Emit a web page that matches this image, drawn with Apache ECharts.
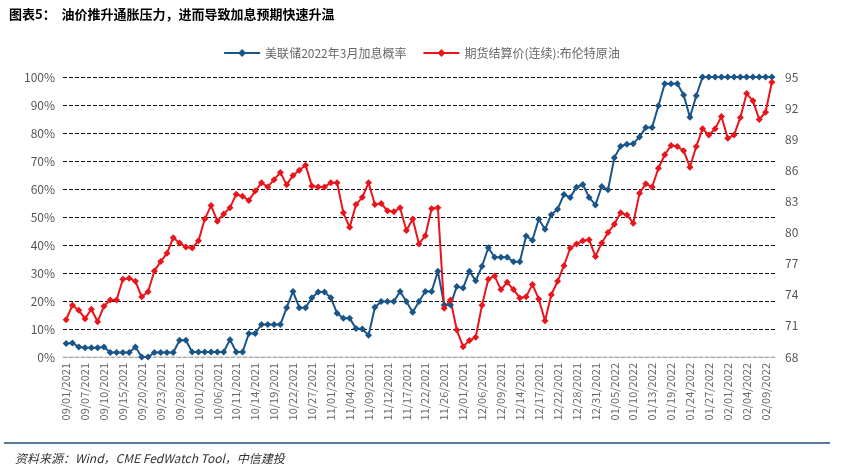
<!DOCTYPE html>
<html>
<head>
<meta charset="utf-8">
<script src="https://cdn.jsdelivr.net/npm/echarts@6/dist/echarts.min.js"></script>
<style>
body{margin:0;background:#fff;}
#chart{width:843px;height:468px;}
</style>
</head>
<body>
<div id="chart"></div>
<script>
var dates = [
 '09/01/2021','09/02/2021','09/03/2021','09/07/2021','09/08/2021','09/09/2021','09/10/2021','09/13/2021','09/14/2021','09/15/2021','09/16/2021','09/17/2021','09/20/2021','09/21/2021','09/22/2021','09/23/2021','09/24/2021','09/27/2021','09/28/2021','09/29/2021','09/30/2021',
 '10/01/2021','10/04/2021','10/05/2021','10/06/2021','10/07/2021','10/08/2021','10/11/2021','10/12/2021','10/13/2021','10/14/2021','10/15/2021','10/18/2021','10/19/2021','10/20/2021','10/21/2021','10/22/2021','10/25/2021','10/26/2021','10/27/2021','10/28/2021','10/29/2021',
 '11/01/2021','11/02/2021','11/03/2021','11/04/2021','11/05/2021','11/08/2021','11/09/2021','11/10/2021','11/11/2021','11/12/2021','11/15/2021','11/16/2021','11/17/2021','11/18/2021','11/19/2021','11/22/2021','11/23/2021','11/24/2021','11/26/2021','11/29/2021','11/30/2021',
 '12/01/2021','12/02/2021','12/03/2021','12/06/2021','12/07/2021','12/08/2021','12/09/2021','12/10/2021','12/13/2021','12/14/2021','12/15/2021','12/16/2021','12/17/2021','12/20/2021','12/21/2021','12/22/2021','12/23/2021','12/27/2021','12/28/2021','12/29/2021','12/30/2021','12/31/2021',
 '01/03/2022','01/04/2022','01/05/2022','01/06/2022','01/07/2022','01/10/2022','01/11/2022','01/12/2022','01/13/2022','01/14/2022','01/18/2022','01/19/2022','01/20/2022','01/21/2022','01/24/2022','01/25/2022','01/26/2022','01/27/2022','01/28/2022','01/31/2022',
 '02/01/2022','02/02/2022','02/03/2022','02/04/2022','02/07/2022','02/08/2022','02/09/2022','02/10/2022'
];

// 美联储2022年3月加息概率 (%)
var hikeProb = [
 4.8,5,3.6,3.3,3.3,3.3,3.6,1.6,1.6,1.6,1.6,3.6,
 0,0,1.6,1.6,1.6,1.6,6,6,
 1.8,1.8,1.8,1.8,1.8,1.8,6.2,1.8,1.8,8.4,8.4,
 11.6,11.6,11.6,11.6,17.6,23.4,17.6,17.6,21.2,23.2,23.2,21.2,
 15.6,13.8,13.8,10.2,10,7.8,
 17.8,19.8,19.8,19.8,23.4,19.8,16,19.8,23.4,23.4,30.6,
 18.6,18.6,25.2,24.6,30.6,27.2,32.4,39,35.6,35.6,35.6,34,34,
 43.2,41.7,49.2,45.6,50.8,52.8,58,57,60.6,61.6,57,54.3,60.9,59.7,
 71.2,75.3,76,76.2,78.6,82,82,89.7,97.6,97.6,97.6,93.6,85.6,93.3,
 100,100,100,100,100,100,100,100,100,100,100,100
];

// 期货结算价(连续):布伦特原油
var brent = [
 71.6,73.0,72.5,71.7,72.6,71.4,72.9,73.5,73.5,75.5,75.6,75.3,73.8,74.3,76.3,77.2,78.0,79.5,79.0,78.6,
 78.5,79.2,81.3,82.6,81.1,81.8,82.4,83.7,83.5,83.1,84.0,84.8,84.4,85.1,85.8,84.6,85.5,86.0,86.5,84.5,
 84.4,84.4,84.8,84.8,81.9,80.5,82.7,83.4,84.8,82.7,82.8,82.1,82.0,82.4,80.2,81.3,78.9,79.7,82.3,
 82.4,72.7,73.5,70.6,69.0,69.6,69.9,73.0,75.5,75.8,74.5,75.2,74.5,73.7,73.8,75.0,73.6,71.5,74.0,75.3,
 76.8,78.5,78.9,79.2,79.3,77.7,79.0,80.0,80.8,81.9,81.7,80.9,83.8,84.7,84.4,86.2,87.5,88.4,88.3,87.9,
 86.3,88.3,90.0,89.4,90.0,91.2,89.1,89.4,91.1,93.4,92.7,90.9,91.6,94.5
];

var pctTicks = [0, 100, 10];
var oilTicks = [68, 95, 3];

var chart = echarts.init(document.getElementById('chart'));
var font = '"Noto Sans CJK SC", sans-serif';

chart.setOption({
    animation: false,
    textStyle: {fontFamily: font},
    title: [{
        text: '图表5：  油价推升通胀压力，进而导致加息预期快速升温',
        left: 4, top: 3,
        textStyle: {fontSize: 13, fontWeight: 'bold', color: '#000', fontFamily: font}
    }, {
        text: '资料来源：Wind，CME FedWatch Tool，中信建投',
        left: 10, top: 447,
        textStyle: {fontSize: 12, fontWeight: 'normal', fontStyle: 'italic', color: '#333', fontFamily: font}
    }],
    graphic: [{
        type: 'line', shape: {x1: 4, y1: 443, x2: 830, y2: 443},
        style: {stroke: '#1f4e79', lineWidth: 1.5}
    }],
    legend: {
        top: 42, left: 'center',
        itemWidth: 36, itemHeight: 10, itemGap: 16,
        textStyle: {fontSize: 12, color: '#666'},
        data: ['美联储2022年3月加息概率', '期货结算价(连续):布伦特原油']
    },
    grid: {left: 63, right: 68, top: 77, bottom: 111},
    xAxis: {
        type: 'category',
        data: dates,
        boundaryGap: ['0.2%', '0.5%'],
        axisLine: {lineStyle: {color: '#d9d9d9', width: 1.5}},
        axisTick: {show: false},
        axisLabel: {interval: 2, rotate: 90, fontSize: 11, color: '#666', margin: 6}
    },
    yAxis: [{
        type: 'value',
        min: pctTicks[0], max: pctTicks[1], interval: pctTicks[2],
        axisLabel: {formatter: '{value}%', fontSize: 12, color: '#555'},
        axisLine: {show: false}, axisTick: {show: false},
        splitLine: {lineStyle: {type: 'dashed', color: '#111', width: 1}}
    }, {
        type: 'value',
        min: oilTicks[0], max: oilTicks[1], interval: oilTicks[2],
        axisLabel: {fontSize: 12, color: '#555', margin: 10},
        axisLine: {show: false}, axisTick: {show: false},
        splitLine: {show: false}
    }],
    series: [{
        name: '美联储2022年3月加息概率',
        type: 'line',
        data: hikeProb,
        symbol: 'diamond', symbolSize: 7, showAllSymbol: true,
        itemStyle: {color: '#1a5588'},
        lineStyle: {width: 2, color: '#1a5588'}
    }, {
        name: '期货结算价(连续):布伦特原油',
        type: 'line',
        yAxisIndex: 1,
        data: brent,
        symbol: 'diamond', symbolSize: 7, showAllSymbol: true,
        itemStyle: {color: '#e8161c'},
        lineStyle: {width: 2, color: '#e8161c'}
    }]
});
</script>
</body>
</html>
